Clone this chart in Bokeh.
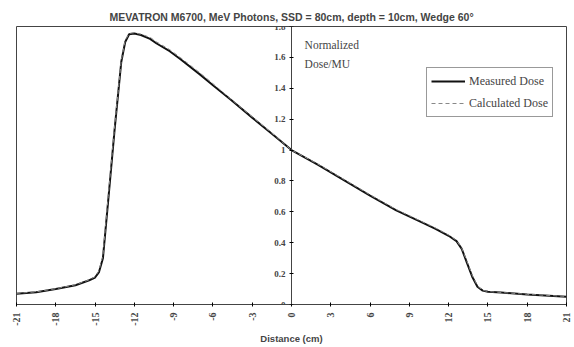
import math
from bokeh.plotting import figure
from bokeh.models import Range1d, FixedTicker, Label, Legend, LegendItem
from bokeh.embed import file_html
from bokeh.resources import INLINE

# ---- data ----
x_meas = [-21, -19.5, -18, -16.5, -15.5, -15, -14.7, -14.4, -14.0, -13.5, -13.0, -12.7,
          -12.4, -12.0, -11.5, -10.8, -10.3, -9.3, -8.5, -7, -6, -4.7, -3, -1.5, 0,
          2, 4, 6, 8, 10, 11, 12, 12.6, 13.0, 13.4, 13.8, 14.2, 14.6, 15, 16, 18, 21]
y_meas = [0.07, 0.08, 0.10, 0.125, 0.155, 0.175, 0.21, 0.30, 0.67, 1.14, 1.57, 1.70,
          1.75, 1.755, 1.745, 1.72, 1.69, 1.64, 1.59, 1.49, 1.42, 1.33, 1.21, 1.105, 1.0,
          0.905, 0.805, 0.705, 0.61, 0.53, 0.49, 0.445, 0.41, 0.36, 0.27, 0.18, 0.115, 0.09, 0.082, 0.077, 0.065, 0.05]
x_calc = [-21, -19.5, -18, -16.5, -15.5, -15, -14.7, -14.4, -14.0, -13.5, -13.0, -12.7,
          -12.4, -12.0, -11.5, -10.8, -10.3, -9.3, -8.5, -7, -6, -4.7, -3, -1.5, 0,
          2, 4, 6, 8, 10, 11, 12, 12.6, 13.0, 13.4, 13.8, 14.2, 14.6, 15, 16, 18, 21]
y_calc = [0.072, 0.082, 0.102, 0.128, 0.158, 0.18, 0.22, 0.32, 0.70, 1.16, 1.58, 1.71,
          1.755, 1.76, 1.75, 1.73, 1.70, 1.65, 1.60, 1.50, 1.43, 1.335, 1.215, 1.11, 1.0,
          0.91, 0.81, 0.71, 0.615, 0.535, 0.495, 0.45, 0.415, 0.365, 0.28, 0.19, 0.12, 0.092, 0.084, 0.078, 0.066, 0.052]

x_ticks = [-21, -18, -15, -12, -9, -6, -3, 0, 3, 6, 9, 12, 15, 18, 21]
x_tick_labels = ["-21", "-18", "-15", "-12", "-9", "-6", "-3", "0", "3", "6", "9", "12", "15", "18", "21"]
y_ticks = [0, 0.2, 0.4, 0.6, 0.8, 1, 1.2, 1.4, 1.6, 1.8]
y_tick_labels = ["0", "0.2", "0.4", "0.6", "0.8", "1", "1.2", "1.4", "1.6", "1.8"]

title_text = "MEVATRON M6700, MeV Photons, SSD = 80cm, depth = 10cm, Wedge 60\u00b0"

p = figure(width=574, height=347, output_backend="svg", toolbar_location=None,
           x_range=Range1d(-21, 21), y_range=Range1d(0, 1.8),
           min_border_left=16, min_border_right=8, min_border_top=26, min_border_bottom=43)
p.background_fill_color = "white"
p.border_fill_color = "white"
p.outline_line_color = "#444444"
p.outline_line_width = 1
p.grid.visible = False

p.title.text = title_text
p.title.text_font = "Liberation Sans"
p.title.text_font_size = "10.5px"
p.title.text_font_style = "bold"
p.title.align = "center"
p.title.offset = 0
p.title.standoff = 8

# x axis
xa = p.xaxis[0]
xa.ticker = FixedTicker(ticks=x_ticks)
xa.major_label_overrides = {t: l for t, l in zip(x_ticks, x_tick_labels)}
xa.major_label_orientation = math.pi / 2
xa.major_label_text_font = "Liberation Serif"
xa.major_label_text_font_size = "10px"
xa.major_label_text_font_style = "bold"
xa.major_label_standoff = 6
xa.minor_tick_line_color = None
xa.major_tick_in = 2
xa.major_tick_out = 2
xa.axis_line_color = "#444444"
xa.axis_label = "Distance (cm)"
xa.axis_label_text_font = "Liberation Sans"
xa.axis_label_text_font_size = "9.5px"
xa.axis_label_text_font_style = "bold"
xa.axis_label_standoff = 4

# y axis at x = 0
ya = p.yaxis[0]
ya.fixed_location = 0
ya.ticker = FixedTicker(ticks=y_ticks)
ya.major_label_overrides = {t: l for t, l in zip(y_ticks, y_tick_labels)}
ya.major_label_text_font = "Liberation Serif"
ya.major_label_text_font_size = "9px"
ya.major_label_text_font_style = "bold"
ya.major_label_standoff = 4
ya.minor_tick_line_color = None
ya.major_tick_in = 2
ya.major_tick_out = 2
ya.axis_line_color = "#444444"

r_meas = p.line(x_meas, y_meas, line_color="#111111", line_width=2)
r_calc = p.line(x_calc, y_calc, line_color="#888888", line_width=1, line_dash="4 3")

legend = Legend(items=[LegendItem(label="Measured Dose", renderers=[r_meas]),
                       LegendItem(label="Calculated Dose", renderers=[r_calc])],
                location=(410, 187))
legend.label_text_font = "Liberation Serif"
legend.label_text_font_size = "12px"
legend.glyph_width = 34
legend.glyph_height = 18
legend.label_height = 18
legend.spacing = 4
legend.padding = 4
legend.margin = 0
legend.label_standoff = 4
legend.border_line_color = "#333333"
legend.border_line_width = 1.5
legend.background_fill_alpha = 1
p.add_layout(legend, "center")

lab1 = Label(x=1.0, y=1.68, text="Normalized", text_font="Liberation Serif",
             text_font_size="11.5px", text_baseline="middle")
lab2 = Label(x=1.0, y=1.56, text="Dose/MU", text_font="Liberation Serif",
             text_font_size="11.5px", text_baseline="middle")
p.add_layout(lab1)
p.add_layout(lab2)

open("out.html", "w").write(file_html(p, INLINE))
